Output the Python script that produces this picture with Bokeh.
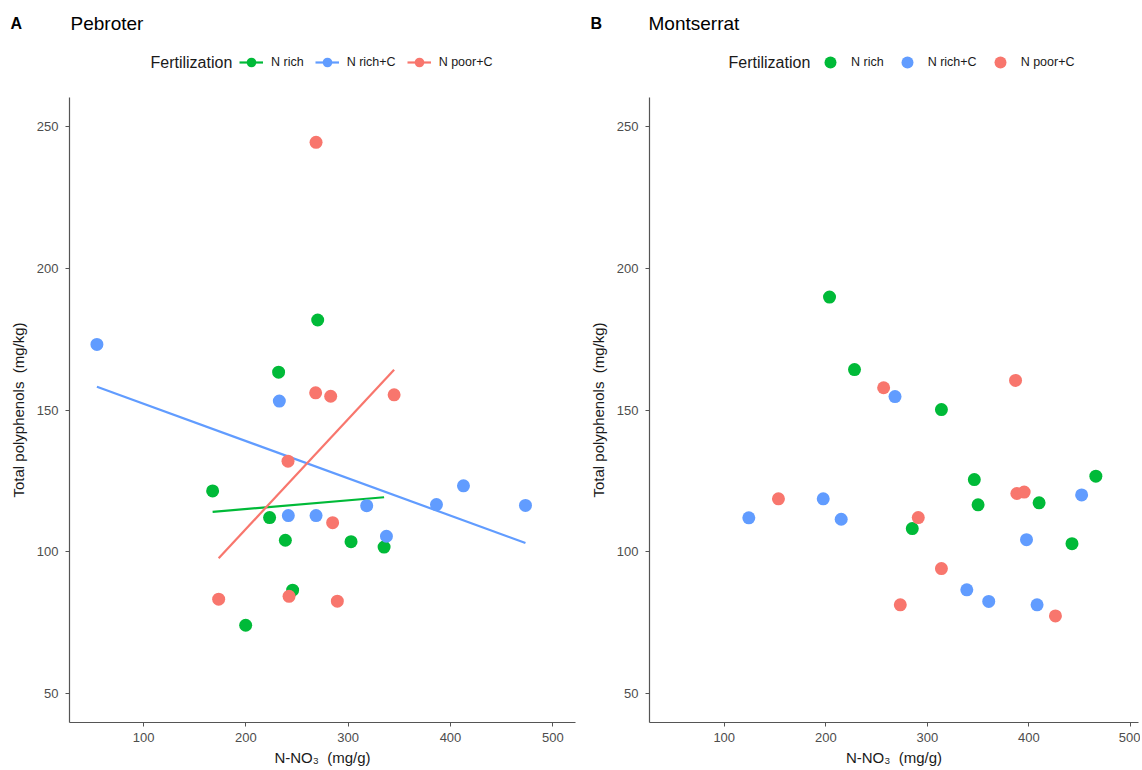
import numpy as np
from bokeh.plotting import figure
from bokeh.models import Label, Legend, LegendItem, FixedTicker, Range1d
from bokeh.layouts import row, column
from bokeh.embed import file_html
from bokeh.resources import INLINE

groups = ["N rich", "N rich+C", "N poor+C"]
colors = ["#00BA38", "#619CFF", "#F8766D"]
x_ticks = [100, 200, 300, 400, 500]
y_ticks = [50, 100, 150, 200, 250]

# Panel A: Pebroter
peb_nrich_x = [270.2, 232.0, 167.5, 223.2, 238.6, 302.8, 335.1, 245.7, 199.8]
peb_nrich_y = [181.8, 163.4, 121.5, 112.1, 104.1, 103.6, 101.7, 86.5, 74.1]
peb_nrichc_x = [54.4, 232.7, 412.7, 386.3, 473.3, 318.1, 241.5, 268.6, 337.4]
peb_nrichc_y = [173.2, 153.2, 123.3, 116.7, 116.4, 116.3, 112.8, 112.8, 105.5]
peb_npoorc_x = [268.6, 268.2, 282.9, 344.9, 241.2, 284.8, 242.2, 173.4, 289.4]
peb_npoorc_y = [244.5, 156.1, 154.9, 155.4, 132.0, 110.3, 84.3, 83.3, 82.6]

# Panel B: Montserrat
mon_nrich_x = [203.7, 228.3, 313.9, 285.2, 346.3, 350.0, 410.1, 466.0, 442.5]
mon_nrich_y = [189.9, 164.3, 150.2, 108.2, 125.5, 116.6, 117.3, 126.7, 102.9]
mon_nrichc_x = [268.2, 124.2, 197.5, 215.2, 452.0, 397.7, 338.9, 360.5, 408.1]
mon_nrichc_y = [154.8, 112.0, 118.7, 111.5, 120.1, 104.3, 86.6, 82.5, 81.3]
mon_npoorc_x = [257.0, 386.9, 153.4, 291.1, 388.2, 395.4, 313.9, 273.4, 426.2]
mon_npoorc_y = [157.9, 160.5, 118.7, 112.1, 120.6, 121.1, 94.1, 81.3, 77.4]

FONT = "Liberation Sans"
HEAD_H = 96
MAIN_H = 672
NB = "\u00a0"


def make_header(letter, name, width, fit, key, fert_x, key_cx, letter_x, name_x):
    h = figure(width=width, height=HEAD_H, output_backend="svg", toolbar_location=None,
               x_range=Range1d(0, 1), y_range=Range1d(0, 1),
               x_axis_location=None, y_axis_location=None,
               min_border=0, min_border_left=0, min_border_right=0,
               min_border_top=0, min_border_bottom=0)
    h.grid.visible = False
    h.outline_line_color = None
    h.background_fill_color = "white"
    h.border_fill_color = "white"
    items = []
    # legend key renderers: one off-range point each, so only the legend keys show
    for g, c in zip(groups, colors):
        rs = []
        if fit:
            rs.append(h.line([5, 6], [5, 6], line_color=c, line_width=2.2))
        rs.append(h.scatter([5], [5], size=13, fill_color=c, line_color=None))
        items.append(LegendItem(label=g, renderers=rs))
    leg = Legend(items=items, orientation="horizontal",
                 location=(key_cx - key / 2, HEAD_H - 62 - key / 2),
                 glyph_width=key, glyph_height=key,
                 label_standoff=int(round(20.5 - key / 2)), spacing=int(round(23 - key / 2)),
                 padding=0, margin=0, border_line_alpha=0, background_fill_alpha=0,
                 label_text_font=FONT, label_text_font_size="12.5px",
                 label_text_color="#1a1a1a", label_height=14)
    h.add_layout(leg)
    h.add_layout(Label(x=fert_x, y=HEAD_H - 62, x_units="screen", y_units="screen",
                       text="Fertilization", text_font=FONT, text_font_size="16px",
                       text_baseline="middle", text_color="#1a1a1a"))
    h.add_layout(Label(x=letter_x, y=HEAD_H - 23, x_units="screen", y_units="screen",
                       text=letter, text_font=FONT, text_font_size="16px",
                       text_font_style="bold", text_baseline="middle", text_color="black"))
    h.add_layout(Label(x=name_x, y=HEAD_H - 23, x_units="screen", y_units="screen",
                       text=name, text_font=FONT, text_font_size="19px",
                       text_baseline="middle", text_color="black"))
    return h


def make_panel(series, fit, width, x_range, mb_left, mb_right):
    p = figure(width=width, height=MAIN_H, output_backend="svg", toolbar_location=None,
               x_range=Range1d(*x_range), y_range=Range1d(39.8, 260.3),
               min_border_left=mb_left, min_border_right=mb_right,
               min_border_top=1, min_border_bottom=MAIN_H - 1 - 628)
    p.grid.visible = False
    p.outline_line_color = None
    p.background_fill_color = "white"
    p.border_fill_color = "white"

    for ax in (p.xaxis[0], p.yaxis[0]):
        ax.axis_line_color = "#555555"
        ax.axis_line_width = 1.2
        ax.major_tick_line_color = "#555555"
        ax.major_tick_in = 0
        ax.major_tick_out = 4
        ax.minor_tick_line_color = None
        ax.major_label_text_font = FONT
        ax.major_label_text_font_size = "13px"
        ax.major_label_text_color = "#4D4D4D"
        ax.axis_label_text_font = FONT
        ax.axis_label_text_font_size = "15px"
        ax.axis_label_text_font_style = "normal"
        ax.axis_label_text_color = "#1a1a1a"
    p.xaxis[0].ticker = FixedTicker(ticks=x_ticks)
    p.yaxis[0].ticker = FixedTicker(ticks=y_ticks)
    p.xaxis[0].major_label_standoff = 6
    p.xaxis[0].axis_label_standoff = 4
    p.yaxis[0].major_label_standoff = 7
    p.yaxis[0].axis_label_standoff = 7
    p.xaxis[0].axis_label = "N-NO\u2083" + NB + NB + "(mg/g)"
    p.yaxis[0].axis_label = "Total polyphenols" + NB + NB + "(mg/kg)"

    for (xs, ys), c in zip(series, colors):
        if fit:
            xa = np.array(xs)
            ya = np.array(ys)
            k, b = np.polyfit(xa, ya, 1)
            lx = [float(xa.min()), float(xa.max())]
            ly = [k * lx[0] + b, k * lx[1] + b]
            p.line(lx, ly, line_color=c, line_width=2.2)
        p.scatter(xs, ys, size=13, fill_color=c, line_color=None)
    return p


WA, WB = 586, 554
ha = make_header("A", "Pebroter", WA, True, 24, fert_x=150, key_cx=251,
                 letter_x=10, name_x=70)
hb = make_header("B", "Montserrat", WB, False, 30, fert_x=728 - WA, key_cx=830 - WA,
                 letter_x=590 - WA, name_x=648 - WA)

pa = make_panel([(peb_nrich_x, peb_nrich_y), (peb_nrichc_x, peb_nrichc_y), (peb_npoorc_x, peb_npoorc_y)],
                True, WA, (27.6, 522.2), 69, 11)
pb = make_panel([(mon_nrich_x, mon_nrich_y), (mon_nrichc_x, mon_nrichc_y), (mon_npoorc_x, mon_npoorc_y)],
                False, WB, (26.4, 508.0), 647 - WA, 2)

layout = column(row(ha, hb), row(pa, pb))
open("out.html", "w").write(file_html(layout, INLINE))
